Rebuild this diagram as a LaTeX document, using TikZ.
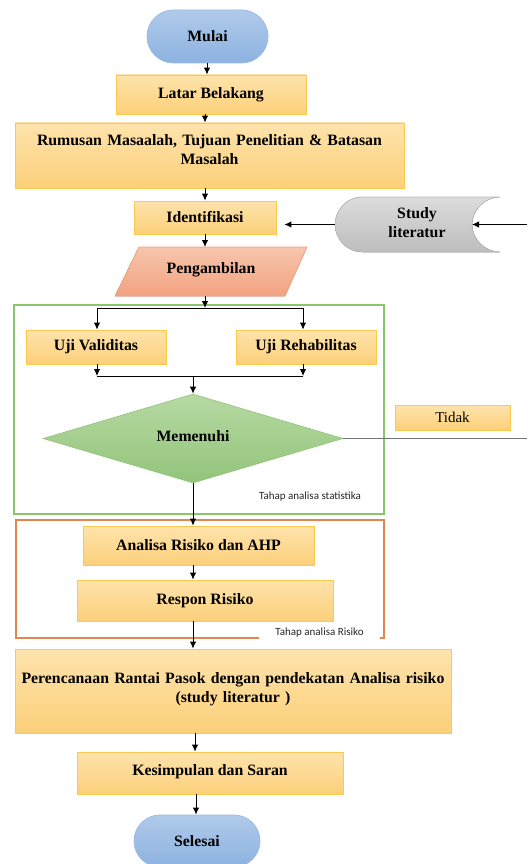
\documentclass[tikz,border=0pt]{standalone}
\usepackage{fontspec}
\setmainfont{Liberation Serif}
\newfontfamily\smallsans{Carlito}
\usetikzlibrary{shapes.misc,shapes.geometric,arrows.meta,calc}
\definecolor{boxtop}{HTML}{FEE3AC}
\definecolor{boxbot}{HTML}{FCD07A}
\definecolor{boxline}{HTML}{FCC84E}
\definecolor{bluetop}{HTML}{B0CAEA}
\definecolor{bluebot}{HTML}{8CB2E0}
\definecolor{blueline}{HTML}{9DBBE3}
\definecolor{salmontop}{HTML}{F7C6AE}
\definecolor{salmonbot}{HTML}{F2A27F}
\definecolor{salmonline}{HTML}{F0A07C}
\definecolor{greentop}{HTML}{B7D9A3}
\definecolor{greenbot}{HTML}{92C47A}
\definecolor{grayTop}{HTML}{DCDCDC}
\definecolor{grayBot}{HTML}{BDBDBD}
\definecolor{grayLine}{HTML}{B8B8B8}
\definecolor{frameGreen}{HTML}{8CC66B}
\definecolor{frameOrange}{HTML}{E0874F}
\tikzset{
  boldtext/.style={font=\fontsize{15.8}{19}\selectfont\bfseries, text=black},
  procbox/.style={rectangle, draw=boxline, line width=0.8pt, top color=boxtop, bottom color=boxbot, inner sep=0pt, boldtext, align=center},
  termbox/.style={rounded rectangle, draw=blueline, line width=0.8pt, top color=bluetop, bottom color=bluebot, inner sep=0pt, boldtext},
  flowarrow/.style={line width=1pt, -{Latex[length=7pt,width=6.5pt]}},
  flowline/.style={line width=1pt},
  smalllabel/.style={font=\smallsans\fontsize{11}{13}\selectfont, text=black!85},
}
\begin{document}
\begin{tikzpicture}[x=1pt,y=-1pt]
\useasboundingbox (0,0) rectangle (527,864);

% frames
\draw[frameGreen, line width=1.2pt] (14,305) rectangle (384,514);
\draw[frameOrange, line width=1.2pt] (16,520) rectangle (384,638);

% start
\node[termbox, minimum width=121pt, minimum height=53pt] (mulai) at (207.5,36.5) {Mulai};
\node[procbox, minimum width=190pt, minimum height=39pt] (latar) at (211,94.5) {\raisebox{1.5pt}{Latar Belakang}};
\node[procbox, minimum width=389pt, minimum height=65pt, text width=385pt] (rumusan) at (209.5,155.5) {Rumusan Masaalah, Tujuan Penelitian \& Batasan\\Masalah\\[-7pt]\mbox{}};
\node[procbox, minimum width=142pt, minimum height=33pt] (ident) at (205,217.5) {Identifikasi};

% study literatur
\fill[top color=grayTop, bottom color=grayBot, draw=grayLine, line width=0.6pt]
  (362,197) -- (500,197)
  .. controls (485,197) and (472,210) .. (472,224.5)
  .. controls (472,239) and (485,252) .. (500,252)
  -- (362,252)
  .. controls (347,252) and (335,239) .. (335,224.5)
  .. controls (335,210) and (347,197) .. (362,197) -- cycle;
\node[boldtext, align=center] (study) at (417,223) {Study\\literatur};
\coordinate (studyL) at (335,224.5);
\coordinate (studyR) at (472,224.5);
\coordinate (rightIn) at (527,224.5);

% pengambilan
\fill[top color=salmontop, bottom color=salmonbot, draw=salmonline, line width=0.6pt]
  (139,247) -- (307,247) -- (285,296) -- (115,296) -- cycle;
\node[boldtext] (peng) at (211,270) {Pengambilan};
\coordinate (pengTop) at (205,247);
\coordinate (pengBot) at (205,296);

% uji
\coordinate (split) at (205,308);
\coordinate (splitL) at (97,308);
\coordinate (splitR) at (303,308);
\node[procbox, minimum width=140pt, minimum height=34pt] (ujiv) at (96,347) {Uji Validitas};
\node[procbox, minimum width=140pt, minimum height=34pt] (ujir) at (306,347) {Uji Rehabilitas};
\coordinate (joinL) at (97,376);
\coordinate (joinR) at (303,376);
\coordinate (joinM) at (193,376);

% decision
\node[diamond, top color=greentop, bottom color=greenbot, draw=greenbot, line width=0.6pt, minimum width=300pt, minimum height=89pt, inner sep=0pt, boldtext] (memenuhi) at (193,438.5) {\raisebox{4pt}{Memenuhi}};
\coordinate (rightOut) at (527,438.5);
\node[rectangle, draw=boxline, line width=0.8pt, top color=boxtop, bottom color=boxbot, minimum width=115pt, minimum height=25pt, inner sep=0pt, font=\fontsize{15}{18}\selectfont] (tidak) at (452.5,417.5) {Tidak};
\node[smalllabel] (lblstat) at (310,497) {Tahap analisa statistika};

% risiko
\node[procbox, minimum width=231pt, minimum height=39pt] (ahp) at (198.5,545.5) {Analisa Risiko dan AHP};
\node[procbox, minimum width=256pt, minimum height=41pt] (respon) at (205,600.5) {\raisebox{2pt}{Respon Risiko}};
\node[smalllabel, fill=white, minimum width=121pt, minimum height=22pt, inner sep=0pt] (lblrisk) at (319.5,633) {Tahap analisa Risiko};

% bottom
\node[procbox, minimum width=436pt, minimum height=84pt, text width=432pt] (renc) at (233,691) {Perencanaan Rantai Pasok dengan pendekatan Analisa risiko\\(study literatur )\\[-13pt]\mbox{}};
\node[procbox, minimum width=266pt, minimum height=42pt] (kes) at (210,773) {\raisebox{5pt}{Kesimpulan dan Saran}};
\node[termbox, minimum width=126pt, minimum height=52pt] (selesai) at (197,841) {Selesai};

% connectors
\draw[flowarrow] (mulai.south -| 207,0) -- (latar.north -| 207,0);
\draw[flowarrow] (latar.south -| 205,0) -- (rumusan.north -| 205,0);
\draw[flowarrow] (rumusan.south -| 205,0) -- (ident.north -| 205,0);
\draw[flowarrow, shorten >=8pt] (studyL) -- (studyL -| ident.east);
\draw[flowarrow] (rightIn) -- (studyR);
\draw[flowarrow] (ident.south -| 205,0) -- (pengTop);
\draw[flowarrow] (pengBot) -- (split);
\draw[flowline] (splitL) -- (splitR);
\draw[flowarrow] (splitL) -- (ujiv.north -| splitL);
\draw[flowarrow] (splitR) -- (ujir.north -| splitR);
\draw[flowarrow] (ujiv.south -| joinL) -- (joinL);
\draw[flowarrow] (ujir.south -| joinR) -- (joinR);
\draw[flowline] (joinL) -- (joinR);
\draw[flowarrow] (joinM) -- (memenuhi.north);
\draw[line width=1pt, black!55] (memenuhi.east) -- (rightOut);
\draw[flowarrow] (memenuhi.south) -- (memenuhi.south |- ahp.north);
\draw[flowarrow] (ahp.south -| memenuhi.south) -- (respon.north -| memenuhi.south);
\draw[flowarrow] (respon.south -| memenuhi.south) -- (renc.north -| memenuhi.south);
\draw[flowarrow] (renc.south -| 195,0) -- (kes.north -| 195,0);
\draw[flowarrow] (kes.south -| 196,0) -- (selesai.north -| 196,0);
\end{tikzpicture}
\end{document}
